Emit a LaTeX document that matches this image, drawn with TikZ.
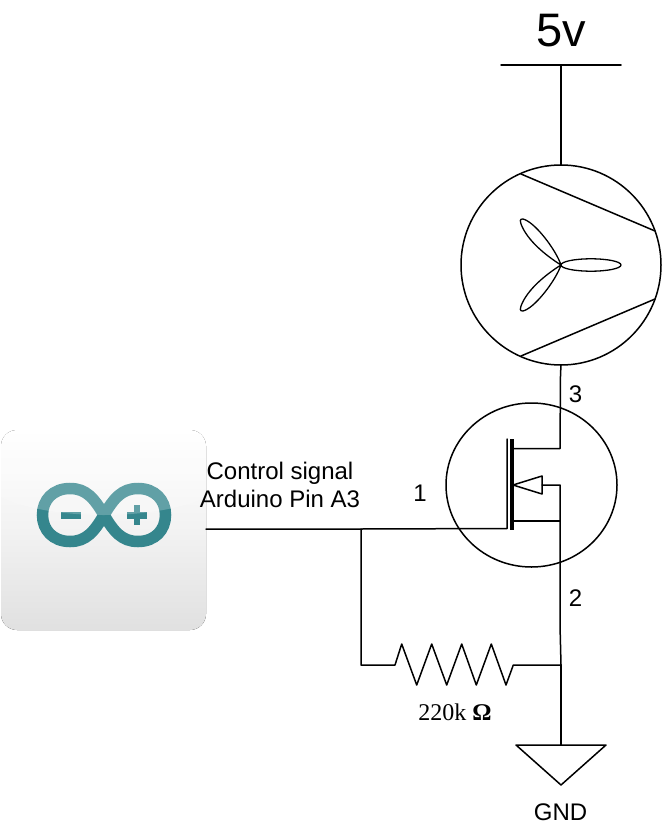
\documentclass[tikz,border=0pt]{standalone}
\usepackage{fontspec}
\setmainfont{Liberation Sans}
\newfontfamily\serifface{Liberation Serif}
\usetikzlibrary{shapes.geometric}
\definecolor{logoteal}{HTML}{35868D}
\tikzset{
  wire/.style={line width=1.5pt,black,line cap=round,line join=round},
  lbl/.style={anchor=base,inner sep=0pt,font=\fontsize{24}{28}\selectfont},
  blade/.style={wire,line width=1.3pt},
  logo/.style={logoteal}
}
\begin{document}
\begin{tikzpicture}[x=1pt,y=-1pt]
\useasboundingbox (0,0) rectangle (664,826);
% Arduino tile
\fill[rounded corners=16pt,top color=white,bottom color=black!12,middle color=black!5,shading angle=0] (1,430) rectangle (206,630);
\draw[logo,line width=11.5pt] (104,515) .. controls (94,498) and (86,488.5) .. (70,488.5)
  .. controls (53,488.5) and (42.5,500) .. (42.5,515)
  .. controls (42.5,530) and (53,541.5) .. (70,541.5)
  .. controls (86,541.5) and (94,532) .. (104,515)
  .. controls (114,498) and (122,488.5) .. (138,488.5)
  .. controls (155,488.5) and (165.5,500) .. (165.5,515)
  .. controls (165.5,530) and (155,541.5) .. (138,541.5)
  .. controls (122,541.5) and (114,532) .. (104,515) -- cycle;
\fill[logo] (60.7,512) rectangle (80.7,518.5);
\fill[logo] (127,512) rectangle (147,518.5);
\fill[logo] (133.8,505) rectangle (140.2,525);
\fill[white,opacity=.22] (1,497) .. controls (50,521) and (157,521) .. (206,497) -- (206,446) .. controls (206,436) and (200,430) .. (190,430) -- (17,430) .. controls (7,430) and (1,436) .. (1,446) -- cycle;
% Coordinates
\coordinate (vl) at (501,65);
\coordinate (vr) at (621,65);
\coordinate (vc) at (561,65);
\node[circle,draw,wire,minimum size=200pt,inner sep=0pt,outer sep=0pt] (fan) at (561,265) {};
\node[ellipse,draw,wire,minimum width=171pt,minimum height=164pt,inner sep=0pt,outer sep=0pt] (mos) at (531.5,485) {};
\coordinate (arduino) at (206,529);
\coordinate (tee) at (361,529);
\coordinate (gateb) at (507,528.5);
\coordinate (gatet) at (507,439);
\coordinate (chant) at (512,439);
\coordinate (chanb) at (512,530);
\coordinate (dr) at (512,448.5);
\coordinate (drc) at (560,448.5);
\coordinate (sr) at (512,521);
\coordinate (src) at (560,521);
\coordinate (tip) at (513,485);
\coordinate (bodyt) at (542,476);
\coordinate (bodyb) at (542,494);
\coordinate (bodym) at (542,485);
\coordinate (bodyc) at (560,485);
\coordinate (bend) at (560,625);
\coordinate (rj) at (561,665);
\coordinate (rl) at (361,665);
\coordinate (gt) at (561,745);
% Supply and fan
\draw[wire] (vl) -- (vr);
\draw[wire] (vc) -- (fan.north);
\draw[wire] (521,174) -- (655,231);
\draw[wire] (521,356) -- (655,299);
\draw[blade] (591,265) ellipse [x radius=30pt,y radius=6.2pt];
\draw[blade] (561,265) .. controls (556,250) and (535,222) .. (523,219)
  .. controls (519.5,218.5) and (520,222) .. (521,224)
  .. controls (527,240) and (545,255) .. (561,265) -- cycle;
\draw[blade] (561,265) .. controls (556,280) and (535,308) .. (523,311)
  .. controls (519.5,311.5) and (520,308) .. (521,306)
  .. controls (527,290) and (545,275) .. (561,265) -- cycle;
% MOSFET
\draw[wire] (fan.south) -- (560.5,375) -- (drc) -- (dr);
\draw[wire] (arduino) -- (tee) -- (gateb) -- (gatet);
\draw[line width=3.5pt,line cap=butt] (chant) -- (chanb);
\draw[wire] (sr) -- (src);
\draw[wire] (tip) -- (bodyt) -- (bodyb) -- cycle;
\draw[wire] (bodym) -- (bodyc) -- (bend) -- (rj);
% Resistor
\draw[wire] (tee) -- (rl) -- (395,665) -- (401.7,644) -- (416.7,685) -- (431.7,644) -- (446.7,685) -- (461.7,644) -- (476.3,685) -- (491.3,644) -- (506,685) -- (513.3,665) -- (rj);
% Ground
\draw[wire] (rj) -- (gt);
\draw[wire] (516,745) -- (606,745) -- (561,785) -- cycle;
% Labels
\node[lbl,font=\fontsize{47}{50}\selectfont] (vlabel) at (561,47) {5v};
\node[lbl] (ctl) at (280,479) {Control signal};
\node[lbl] (pin) at (280,507) {Arduino Pin A3};
\node[lbl] (n1) at (420,501) {1};
\node[lbl] (n3) at (575.5,402) {3};
\node[lbl] (n2) at (575.5,606) {2};
\node[lbl] (gnd) at (560.5,820) {GND};
\node[lbl,font=\fontsize{24}{28}\selectfont\serifface] (res) at (455,720) {220k \textbf{Ω}};
\end{tikzpicture}
\end{document}
